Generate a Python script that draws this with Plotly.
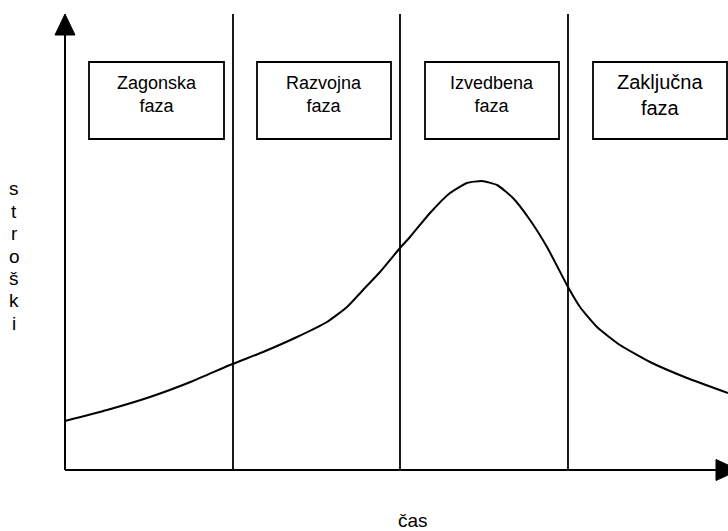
import plotly.graph_objects as go

# ---- data (abstract units: time along x, cost along y, origin at the axes' corner) ----
time_pts = [0, 42, 85, 128, 165, 198, 232, 262, 282, 298, 315, 335, 345, 365, 385, 402, 417,
            432, 448, 465, 482, 503, 515, 532, 555, 585, 622, 663]
cost_pts = [49, 60, 73, 89, 105, 118, 133, 148, 163, 180, 198, 222, 233, 257, 277, 287, 289,
            285, 272, 250, 223, 183, 163, 143, 125, 108, 92, 77]

phase_names = ["Zagonska<br>faza", "Razvojna<br>faza", "Izvedbena<br>faza", "Zaključna<br>faza"]
phase_box_x0 = [24, 192, 360, 528]
phase_box_x1 = [159, 326, 494, 662]
phase_font = [18, 18, 18, 20]
phase_bounds = [168, 335, 503]
box_y0, box_y1 = 331, 408
line_top = 456

y_letters = ["s", "t", "r", "o", "š", "k", "i"]
y_letter_c = [282, 259, 237, 214, 192, 170, 147]
x_label = "čas"

FONT = "Liberation Sans, Arial, sans-serif"

fig = go.Figure()

fig.add_trace(go.Scatter(x=time_pts, y=cost_pts, mode="lines",
                         line=dict(color="black", width=2, shape="spline", smoothing=0.5),
                         hoverinfo="skip", showlegend=False))

shapes = []
for b in phase_bounds:
    shapes.append(dict(type="line", x0=b, x1=b, y0=0, y1=line_top,
                       line=dict(color="black", width=1.8)))
for x0, x1 in zip(phase_box_x0, phase_box_x1):
    shapes.append(dict(type="rect", x0=x0, x1=x1, y0=box_y0, y1=box_y1,
                       line=dict(color="black", width=1.8), fillcolor="white"))
shapes.append(dict(type="line", x0=0, x1=0, y0=0, y1=436, line=dict(color="black", width=2)))
shapes.append(dict(type="line", x0=0, x1=652, y0=0, y1=0, line=dict(color="black", width=2)))
shapes.append(dict(type="path", path="M -10,435 L 10,435 L 0,456 Z",
                   fillcolor="black", line=dict(color="black", width=1)))
shapes.append(dict(type="path", path="M 651,10.5 L 651,-10.5 L 674,0 Z",
                   fillcolor="black", line=dict(color="black", width=1)))

annotations = []
for name, x0, x1, fs in zip(phase_names, phase_box_x0, phase_box_x1, phase_font):
    annotations.append(dict(x=(x0 + x1) / 2, y=(box_y0 + box_y1) / 2 + 6, text=name,
                            showarrow=False, font=dict(family=FONT, size=fs, color="black"),
                            xref="x", yref="y", align="center"))
for ch, c in zip(y_letters, y_letter_c):
    annotations.append(dict(x=-51, y=c, text=ch, showarrow=False,
                            font=dict(family=FONT, size=19, color="black"), xref="x", yref="y"))
annotations.append(dict(x=348, y=-50, text=x_label, showarrow=False,
                        font=dict(family=FONT, size=19, color="black"), xref="x", yref="y"))

fig.update_layout(
    width=728, height=531,
    margin=dict(l=0, r=0, t=0, b=0),
    paper_bgcolor="white", plot_bgcolor="white",
    xaxis=dict(range=[-65, 663], visible=False, fixedrange=True),
    yaxis=dict(range=[-61, 470], visible=False, fixedrange=True),
    shapes=shapes, annotations=annotations, showlegend=False,
)

fig.write_html("out.html", config={"displayModeBar": False},
               post_script="document.body.style.margin='0';document.body.style.overflow='hidden';")
